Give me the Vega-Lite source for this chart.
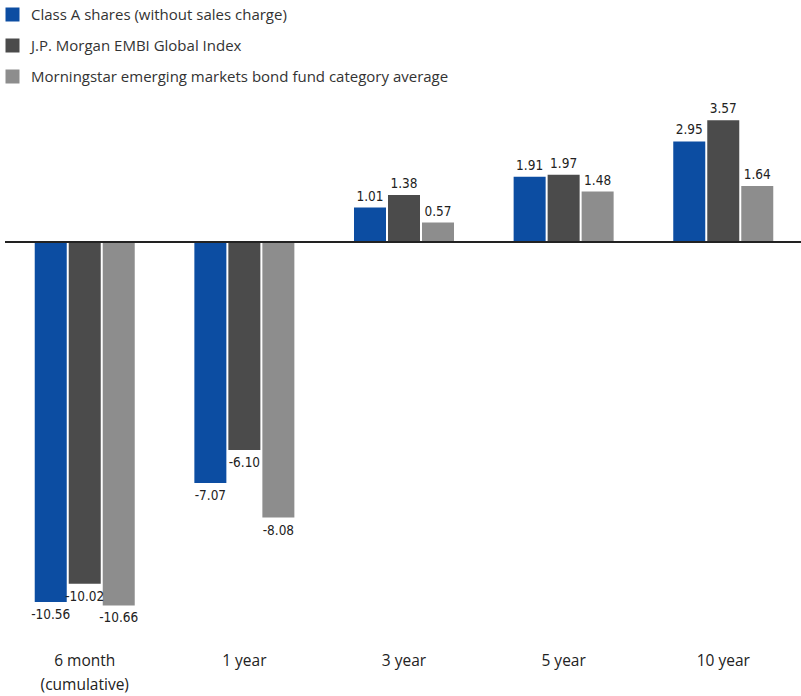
{
  "$schema": "https://vega.github.io/schema/vega-lite/v6.json",
  "width": 798,
  "height": 525,
  "autosize": {"type": "none"},
  "padding": {"left": 5, "top": 100, "right": 0, "bottom": 71},
  "background": "white",
  "config": {"view": {"stroke": null}, "font": "Open Sans"},
  "data": {
    "values": [
      {"period": "6 month|(cumulative)", "series": "Class A shares (without sales charge)", "value": -10.56, "label": "-10.56"},
      {"period": "6 month|(cumulative)", "series": "J.P. Morgan EMBI Global Index", "value": -10.02, "label": "-10.02"},
      {"period": "6 month|(cumulative)", "series": "Morningstar emerging markets bond fund category average", "value": -10.66, "label": "-10.66"},
      {"period": "1 year", "series": "Class A shares (without sales charge)", "value": -7.07, "label": "-7.07"},
      {"period": "1 year", "series": "J.P. Morgan EMBI Global Index", "value": -6.10, "label": "-6.10"},
      {"period": "1 year", "series": "Morningstar emerging markets bond fund category average", "value": -8.08, "label": "-8.08"},
      {"period": "3 year", "series": "Class A shares (without sales charge)", "value": 1.01, "label": "1.01"},
      {"period": "3 year", "series": "J.P. Morgan EMBI Global Index", "value": 1.38, "label": "1.38"},
      {"period": "3 year", "series": "Morningstar emerging markets bond fund category average", "value": 0.57, "label": "0.57"},
      {"period": "5 year", "series": "Class A shares (without sales charge)", "value": 1.91, "label": "1.91"},
      {"period": "5 year", "series": "J.P. Morgan EMBI Global Index", "value": 1.97, "label": "1.97"},
      {"period": "5 year", "series": "Morningstar emerging markets bond fund category average", "value": 1.48, "label": "1.48"},
      {"period": "10 year", "series": "Class A shares (without sales charge)", "value": 2.95, "label": "2.95"},
      {"period": "10 year", "series": "J.P. Morgan EMBI Global Index", "value": 3.57, "label": "3.57"},
      {"period": "10 year", "series": "Morningstar emerging markets bond fund category average", "value": 1.64, "label": "1.64"}
    ]
  },
  "encoding": {
    "x": {
      "field": "period", "type": "nominal",
      "sort": ["6 month|(cumulative)", "1 year", "3 year", "5 year", "10 year"],
      "scale": {"paddingInner": 0.361, "paddingOuter": 0.18},
      "axis": {
        "title": null, "domain": false, "ticks": false, "labelAngle": 0,
        "labelExpr": "split(datum.label, '|')",
        "labelFontSize": 15.5, "labelColor": "#222222", "labelPadding": 28,
        "labelLineHeight": 24, "labelFont": "Open Sans"
      }
    },
    "xOffset": {
      "field": "series", "type": "nominal",
      "sort": ["Class A shares (without sales charge)", "J.P. Morgan EMBI Global Index", "Morningstar emerging markets bond fund category average"],
      "scale": {"paddingInner": 0.0588, "paddingOuter": 0.0294}
    },
    "y": {
      "field": "value", "type": "quantitative",
      "scale": {"domain": [-11.232, 4.164], "nice": false, "zero": false},
      "axis": null
    }
  },
  "layer": [
    {
      "mark": {"type": "bar"},
      "encoding": {
        "color": {
          "field": "series", "type": "nominal",
          "sort": ["Class A shares (without sales charge)", "J.P. Morgan EMBI Global Index", "Morningstar emerging markets bond fund category average"],
          "scale": {
            "domain": ["Class A shares (without sales charge)", "J.P. Morgan EMBI Global Index", "Morningstar emerging markets bond fund category average"],
            "range": ["#0C4DA2", "#4B4B4B", "#8D8D8D"]
          },
          "legend": {
            "title": null, "orient": "none", "legendX": 0, "legendY": -93,
            "symbolType": "square", "symbolSize": 196, "symbolStrokeWidth": 0,
            "labelFontSize": 15, "labelColor": "#333333", "labelFont": "Open Sans",
            "rowPadding": 15, "labelLimit": 0, "padding": 0, "labelOffset": 11
          }
        },
        "y2": {"datum": 0}
      }
    },
    {
      "transform": [{"filter": "datum.value >= 0"}],
      "mark": {"type": "text", "baseline": "bottom", "dy": -4, "fontSize": 13.5, "font": "DejaVu Sans Condensed", "color": "#222222"},
      "encoding": {"text": {"field": "label"}}
    },
    {
      "transform": [{"filter": "datum.value < 0"}],
      "mark": {"type": "text", "baseline": "top", "dy": 6, "fontSize": 13.5, "font": "DejaVu Sans Condensed", "color": "#222222"},
      "encoding": {"text": {"field": "label"}}
    },
    {
      "mark": {"type": "rule", "color": "#222222", "strokeWidth": 2},
      "encoding": {"y": {"datum": 0}, "x": {"value": 0}, "x2": {"value": 798}, "xOffset": null}
    }
  ]
}
